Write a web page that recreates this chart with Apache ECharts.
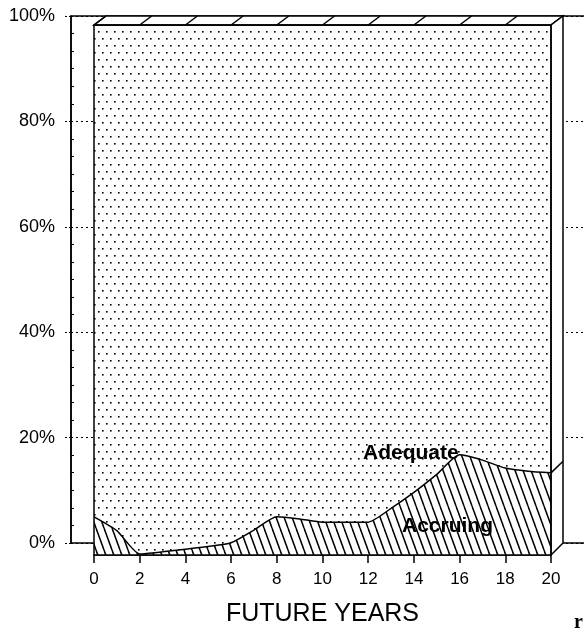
<!DOCTYPE html>
<html><head><meta charset="utf-8">
<script src="https://cdn.jsdelivr.net/npm/echarts@6/dist/echarts.min.js"></script>
<style>html,body{margin:0;padding:0;background:#fff}#c{width:584px;height:629px}</style>
</head><body><div id="c"></div>
<script>
const years = [0,1,2,3,4,5,6,7,8,9,10,11,12,13,14,15,16,17,18,19,20];
const accruing = [7.2,4.6,0.2,0.6,1.1,1.6,2.3,4.7,7.2,6.8,6.2,6.2,6.2,8.8,11.8,15.2,18.9,17.9,16.4,15.8,15.5];
const adequate = [92.8,95.4,99.8,99.4,98.9,98.4,97.7,95.3,92.8,93.2,93.8,93.8,93.8,91.2,88.2,84.8,81.1,82.1,83.6,84.2,84.5];
const xTicks = [0,2,4,6,8,10,12,14,16,18,20];
const yTickLabels = ['0%','20%','40%','60%','80%','100%'];
const seriesNames = ['Accruing','Adequate'];
const xName = 'FUTURE YEARS';

const FONT = '"Liberation Sans", Arial, Helvetica, sans-serif';

function hatchPattern(){
  const c=document.createElement('canvas');c.width=8;c.height=22;
  const g=c.getContext('2d');g.fillStyle='#fff';g.fillRect(0,0,8,22);
  g.strokeStyle='#000';g.lineWidth=1.5;
  for(const o of [-8,0,8]){g.beginPath();g.moveTo(o,0);g.lineTo(o+8,22);g.stroke();}
  return c;
}
function dotPattern(){
  const c=document.createElement('canvas');c.width=8;c.height=14;
  const g=c.getContext('2d');g.fillStyle='#fff';g.fillRect(0,0,8,14);
  g.fillStyle='#000';g.fillRect(2,3,1.6,1.6);g.fillRect(6,10,1.6,1.6);
  return c;
}

const chart = echarts.init(document.getElementById('c'), null, {renderer:'canvas'});
const last = accruing.length-1;
const xIndex = v => years.indexOf(v);

const option = {
  animation:false,
  backgroundColor:'#fff',
  grid:[
    {left:71, top:16, width:560, height:527, show:true, borderColor:'#000', borderWidth:1.5, backgroundColor:'transparent', outerBoundsMode:'none', containLabel:false},
    {left:94, top:25, width:457, height:530, outerBoundsMode:'none', containLabel:false}
  ],
  xAxis:[
    {gridIndex:0, type:'value', min:0, max:1, show:false},
    {gridIndex:1, type:'category', data:years.map(String), boundaryGap:false,
     axisLine:{show:true, lineStyle:{color:'#000', width:1.5}},
     axisTick:{show:true, length:8, interval:1, lineStyle:{color:'#000', width:1.5}},
     axisLabel:{color:'#000', fontSize:17, margin:16, fontFamily:FONT, interval:1},
     splitLine:{show:false},
     name:xName, nameLocation:'middle', nameGap:47,
     nameTextStyle:{fontSize:25, color:'#000', fontFamily:FONT}}
  ],
  yAxis:[
    {gridIndex:0, type:'value', min:0, max:100, interval:20, position:'left',
     axisLine:{show:true, lineStyle:{color:'#000', width:1.5}},
     axisTick:{show:true, length:8, lineStyle:{color:'#000', width:1, type:[2,2]}},
     axisLabel:{color:'#000', fontSize:18, margin:16, fontFamily:FONT,
       formatter:v=>yTickLabels[Math.round(v/20)]},
     splitLine:{show:true, lineStyle:{color:'#000', width:1.2, type:[2,3]}}},
    {gridIndex:0, type:'value', min:0, max:100, interval:20, position:'left',
     axisLine:{show:false}, axisLabel:{show:false}, splitLine:{show:false},
     axisTick:{show:true, inside:true, length:0},
     minorTick:{show:true, splitNumber:6, length:3, lineStyle:{color:'#000', width:1}}},
    {gridIndex:1, type:'value', min:0, max:100, show:false}
  ],
  series:[
    {name:seriesNames[0], type:'line', xAxisIndex:1, yAxisIndex:2, stack:'total',
     data:accruing, symbol:'none', smooth:0.2,
     lineStyle:{color:'#000', width:1.5},
     areaStyle:{color:{image:hatchPattern(), repeat:'repeat'}, opacity:1}},
    {name:seriesNames[1], type:'line', xAxisIndex:1, yAxisIndex:2, stack:'total',
     data:adequate, symbol:'none', smooth:0.2,
     lineStyle:{color:'#000', width:1.5},
     areaStyle:{color:{image:dotPattern(), repeat:'repeat'}, opacity:1}},
    {type:'custom', xAxisIndex:1, yAxisIndex:2, clip:false, z:10, silent:true,
     data:[[0,0]],
     renderItem:function(params, api){
       const P=(x,y)=>api.coord([xIndex(x),y]);
       const yTop=P(0,100)[1], yBot=P(0,0)[1];
       const B=(x,y)=>{const p=P(x,y);return [p[0]+12, p[1]-9-3*(p[1]-yTop)/(yBot-yTop)];};
       const st={stroke:'#000', lineWidth:1.5};
       const ch=[];
       ch.push({type:'polygon', shape:{points:[P(0,100),P(20,100),B(20,100),B(0,100)]}, style:{fill:'#fff', stroke:'#000', lineWidth:1.5}});
       xTicks.forEach(x=>{const a=P(x,100), b=B(x,100);
         ch.push({type:'line', shape:{x1:a[0],y1:a[1],x2:b[0],y2:b[1]}, style:st});});
       ch.push({type:'polygon', shape:{points:[P(20,0),P(20,100),B(20,100),B(20,0)]}, style:{fill:'#fff', stroke:'#000', lineWidth:1.5}});
       const a1=P(20,accruing[last]), b1=B(20,accruing[last]);
       ch.push({type:'line', shape:{x1:a1[0],y1:a1[1],x2:b1[0],y2:b1[1]}, style:st});
       ch.push({type:'polygon', shape:{points:[P(0,0),P(0,100),P(20,100),P(20,0)]}, style:{fill:null, stroke:'#000', lineWidth:1.5}});
       return {type:'group', children:ch};
     }}
  ],
  graphic:[
    {type:'text', left:363, top:443, z:100, style:{text:seriesNames[1], font:'bold 21px '+FONT, fill:'#000'}},
    {type:'text', left:402, top:516, z:100, style:{text:seriesNames[0], font:'bold 21px '+FONT, fill:'#000'}},
    {type:'text', left:574, top:613, z:100, style:{text:'r', font:'bold 20px "Liberation Serif", serif', fill:'#000'}}
  ]
};
chart.setOption(option);
</script></body></html>
